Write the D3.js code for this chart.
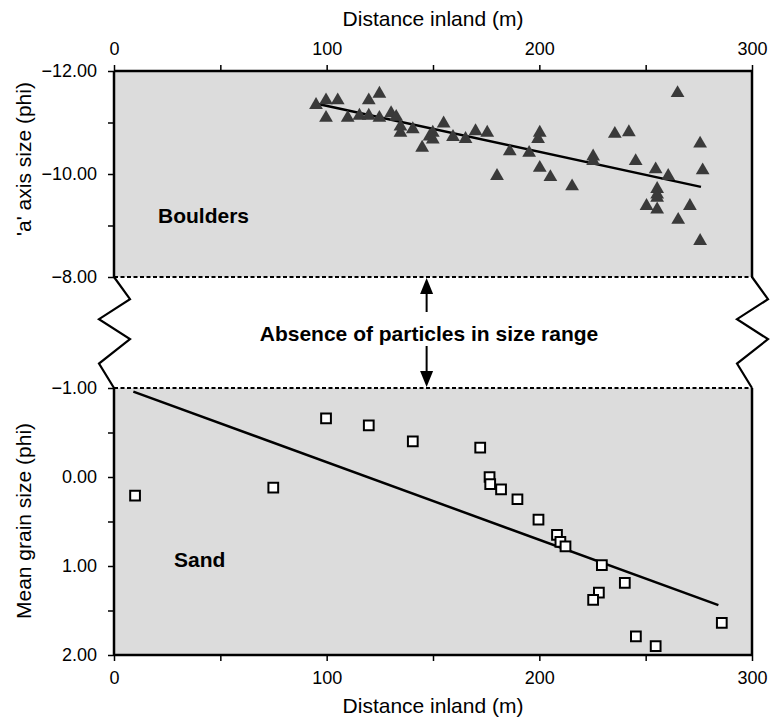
<!DOCTYPE html>
<html>
<head>
<meta charset="utf-8">
<script src="https://cdn.jsdelivr.net/npm/d3@7"></script>
<style>
  body { margin: 0; background: #fff; }
  svg text { font-family: Arial, "Liberation Sans", sans-serif; fill: #000; }
</style>
</head>
<body>
<div id="chart"></div>
<script>
// datos
const boulderDist = [95, 99.7, 99.7, 105.2, 109.9, 115.4, 119.8, 119.8, 124.8, 124.8, 130.3, 132.7, 134.7, 134.7,
  140.5, 144.9, 148.4, 149.9, 149.9, 155, 159.4, 165.3, 170, 175.5, 180.1, 186.1, 195.2, 200.2, 199.4, 200.2,
  205.2, 215.4, 225.3, 225.3, 235.5, 242.1, 245.3, 254.7, 260.6, 255.4, 255.4, 255.4, 250.4, 255.4, 265,
  265.3, 270.8, 275.6, 276.8, 275.6];
const boulderPhi = [-11.34, -11.43, -11.09, -11.43, -11.09, -11.13, -11.43, -11.13, -11.56, -11.09, -11.18, -11.11, -10.92, -10.8,
  -10.87, -10.51, -10.73, -10.8, -10.67, -10.98, -10.72, -10.68, -10.83, -10.8, -9.96, -10.44, -10.41, -10.8, -10.68, -10.12,
  -9.94, -9.76, -10.34, -10.25, -10.78, -10.81, -10.25, -10.09, -9.96, -9.71, -9.6, -9.54, -9.38, -9.31, -11.57,
  -9.11, -9.38, -10.59, -10.07, -8.7];
const boulderFit = [[96, -11.36], [276, -9.75]];

const sandDist = [9.9, 74.9, 99.7, 119.8, 140.5, 172.2, 176.6, 176.9, 182, 189.7, 199.6, 208.3, 209.9, 212.3,
  229.4, 240.2, 228, 225.3, 245.4, 254.7, 285.8];
const sandPhi = [0.21, 0.12, -0.66, -0.58, -0.4, -0.33, 0, 0.08, 0.14, 0.25, 0.48, 0.65, 0.73, 0.78,
  0.99, 1.19, 1.3, 1.38, 1.79, 1.9, 1.64];
const sandFit = [[9.1, -0.96], [284.2, 1.44]];

const xTicks = [0, 100, 200, 300];
const xMinor = [0, 50, 100, 150, 200, 250, 300];
const topTicks = [-12, -10, -8];
const topMinor = [-12, -11, -10, -9, -8];
const botTicks = [-1, 0, 1, 2];
const botMinor = [-1, -0.5, 0, 0.5, 1, 1.5, 2];

const width = 773, height = 723;
const left = 114, right = 752;

const svg = d3.select("#chart").append("svg")
  .attr("width", width).attr("height", height);

const x = d3.scaleLinear().domain([0, 300]).range([left, right]);
const yTop = d3.scaleLinear().domain([-12, -8]).range([71, 277]);
const yBot = d3.scaleLinear().domain([-1, 2]).range([388, 655]);

// fondos grises
svg.append("rect").attr("x", left).attr("y", yTop(-12))
  .attr("width", right - left).attr("height", yTop(-8) - yTop(-12)).attr("fill", "#dcdcdc");
svg.append("rect").attr("x", left).attr("y", yBot(-1))
  .attr("width", right - left).attr("height", yBot(2) - yBot(-1)).attr("fill", "#dcdcdc");

// lineas de ruptura discontinuas
[yTop(-8), yBot(-1)].forEach(yy => {
  svg.append("line").attr("x1", left).attr("x2", right).attr("y1", yy).attr("y2", yy)
    .attr("stroke", "#000").attr("stroke-width", 1.8).attr("stroke-dasharray", "4,2.5");
});

// ejes
function axisStyle(g) {
  g.select(".domain").remove();
  g.selectAll(".tick line").attr("stroke", "#000").attr("stroke-width", 1.5);
  g.selectAll(".tick text").attr("font-size", 18);
}

svg.append("g").attr("transform", `translate(0,${yTop(-12)})`)
  .call(d3.axisTop(x).tickValues(xMinor).tickSize(6).tickPadding(10)
    .tickFormat(d => xTicks.includes(d) ? d : ""))
  .call(axisStyle);

svg.append("g").attr("transform", `translate(0,${yBot(2)})`)
  .call(d3.axisBottom(x).tickValues(xMinor).tickSize(6).tickPadding(10)
    .tickFormat(d => xTicks.includes(d) ? d : ""))
  .call(axisStyle);

svg.append("g").attr("transform", `translate(${left},0)`)
  .call(d3.axisLeft(yTop).tickValues(topMinor).tickSize(6).tickPadding(11)
    .tickFormat(d => topTicks.includes(d) ? d3.format(".2f")(d) : ""))
  .call(axisStyle);

svg.append("g").attr("transform", `translate(${left},0)`)
  .call(d3.axisLeft(yBot).tickValues(botMinor).tickSize(6).tickPadding(11)
    .tickFormat(d => botTicks.includes(d) ? d3.format(".2f")(d) : ""))
  .call(axisStyle);

// marco (lineas gruesas)
const frame = svg.append("g").attr("stroke", "#000").attr("stroke-width", 2.5).attr("fill", "none");
frame.append("line").attr("x1", left).attr("x2", right).attr("y1", yTop(-12)).attr("y2", yTop(-12));
frame.append("line").attr("x1", left).attr("x2", right).attr("y1", yBot(2)).attr("y2", yBot(2));
[left, right].forEach(xx => {
  frame.append("line").attr("x1", xx).attr("x2", xx).attr("y1", yTop(-12)).attr("y2", yTop(-8));
  frame.append("line").attr("x1", xx).attr("x2", xx).attr("y1", yBot(-1)).attr("y2", yBot(2));
});

// zigzags
const gapTop = yTop(-8), gapBot = yBot(-1), gh = gapBot - gapTop;
const zig = [[0, 0], [16, 0.2], [-15, 0.38], [16, 0.56], [-15, 0.78], [0, 1]];
[left, right].forEach(xx => {
  svg.append("path")
    .attr("d", d3.line()(zig.map(p => [xx + p[0], gapTop + p[1] * gh])))
    .attr("fill", "none").attr("stroke", "#000").attr("stroke-width", 2.2)
    .attr("stroke-linejoin", "miter");
});

// flecha doble
const ax = x(147);
const arrow = svg.append("g").attr("fill", "#000").attr("stroke", "#000");
arrow.append("line").attr("x1", ax).attr("x2", ax).attr("y1", gapTop + 14).attr("y2", gapTop + 35).attr("stroke-width", 2);
arrow.append("line").attr("x1", ax).attr("x2", ax).attr("y1", gapBot - 42).attr("y2", gapBot - 14).attr("stroke-width", 2);
arrow.append("path").attr("stroke", "none")
  .attr("d", `M${ax},${gapTop + 1} L${ax - 6.5},${gapTop + 17} L${ax + 6.5},${gapTop + 17} Z`);
arrow.append("path").attr("stroke", "none")
  .attr("d", `M${ax},${gapBot - 1} L${ax - 6.5},${gapBot - 17} L${ax + 6.5},${gapBot - 17} Z`);

svg.append("text").attr("x", 429).attr("y", 341)
  .attr("text-anchor", "middle").attr("font-size", 21).attr("font-weight", "bold")
  .text("Absence of particles in size range");

// rectas de ajuste
const line = d3.line();
svg.append("path").attr("d", line(boulderFit.map(d => [x(d[0]), yTop(d[1])])))
  .attr("stroke", "#000").attr("stroke-width", 2.5).attr("fill", "none");
svg.append("path").attr("d", line(sandFit.map(d => [x(d[0]), yBot(d[1])])))
  .attr("stroke", "#000").attr("stroke-width", 2.5).attr("fill", "none");

// bloques (triangulos)
const tri = d3.symbol().type(d3.symbolTriangle).size(82);
svg.append("g").selectAll("path")
  .data(boulderDist.map((d, i) => [d, boulderPhi[i]]))
  .enter().append("path")
  .attr("d", tri)
  .attr("transform", d => `translate(${x(d[0])},${yTop(d[1])})`)
  .attr("fill", "#3a3a3a");

// arena (cuadrados)
const sq = d3.symbol().type(d3.symbolSquare).size(95);
svg.append("g").selectAll("path")
  .data(sandDist.map((d, i) => [d, sandPhi[i]]))
  .enter().append("path")
  .attr("d", sq)
  .attr("transform", d => `translate(${x(d[0])},${yBot(d[1])})`)
  .attr("fill", "#fff").attr("stroke", "#000").attr("stroke-width", 2);

// etiquetas
svg.append("text").attr("x", 158).attr("y", 223).attr("font-size", 21).attr("font-weight", "bold").text("Boulders");
svg.append("text").attr("x", 174).attr("y", 567).attr("font-size", 21).attr("font-weight", "bold").text("Sand");

svg.append("text").attr("x", 433).attr("y", 26).attr("text-anchor", "middle")
  .attr("font-size", 21).text("Distance inland (m)");
svg.append("text").attr("x", 433).attr("y", 713).attr("text-anchor", "middle")
  .attr("font-size", 21).text("Distance inland (m)");

svg.append("text").attr("transform", "translate(31,159) rotate(-90)")
  .attr("text-anchor", "middle").attr("font-size", 21).text("'a' axis size (phi)");
svg.append("text").attr("transform", "translate(31,521) rotate(-90)")
  .attr("text-anchor", "middle").attr("font-size", 21).text("Mean grain size (phi)");
</script>
</body>
</html>
